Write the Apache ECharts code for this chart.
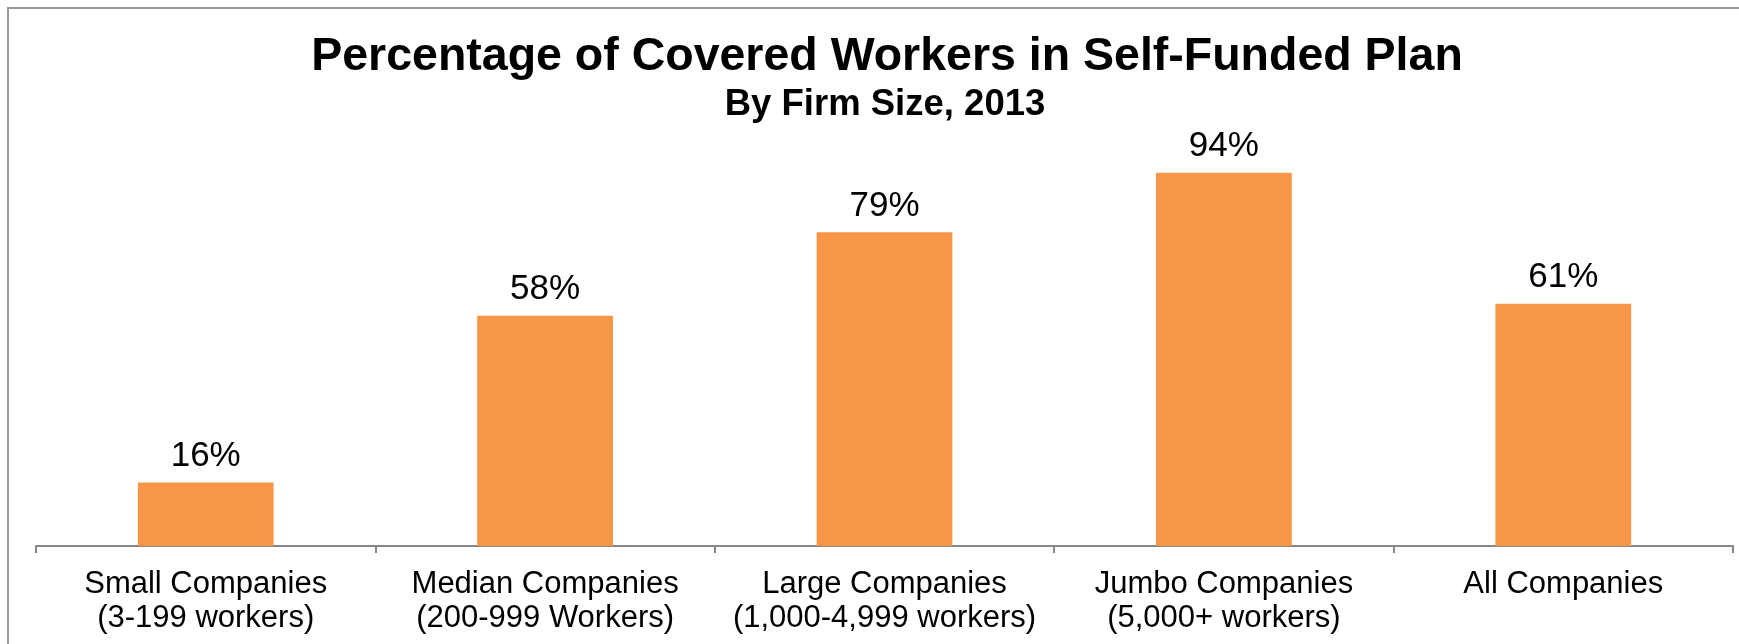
<!DOCTYPE html>
<html>
<head>
<meta charset="utf-8">
<script src="https://cdn.jsdelivr.net/npm/echarts@6/dist/echarts.min.js"></script>
<style>
  html, body { margin: 0; padding: 0; background: #ffffff; }
  #chart { width: 1739px; height: 644px; }
</style>
</head>
<body>
<div id="chart"></div>
<script>
// Firm-size groups and the share of covered workers in self-funded plans (%)
const categories = [
  'Small Companies\n(3-199 workers)',
  'Median Companies\n(200-999 Workers)',
  'Large Companies\n(1,000-4,999 workers)',
  'Jumbo Companies\n(5,000+ workers)',
  'All Companies'
];
const selfFundedShare = [16, 58, 79, 94, 61];

const titleText = 'Percentage of Covered Workers in Self-Funded Plan';
const subtitleText = 'By Firm Size, 2013';

const FONT = '"Liberation Sans", Arial, Helvetica, sans-serif';
const chart = echarts.init(document.getElementById('chart'), null, { renderer: 'canvas' });

chart.setOption({
  backgroundColor: '#ffffff',
  animation: false,
  title: [
    {
      text: titleText,
      left: 887, top: 34, textAlign: 'center',
      padding: 0,
      textStyle: { fontFamily: FONT, fontSize: 46.5, fontWeight: 'bold', color: '#000000' }
    },
    {
      text: subtitleText,
      left: 885, top: 86, textAlign: 'center',
      padding: 0,
      textStyle: { fontFamily: FONT, fontSize: 36.5, fontWeight: 'bold', color: '#000000' }
    }
  ],
  graphic: [
    {
      type: 'rect',
      silent: true,
      shape: { x: 8, y: 8, width: 1800, height: 700 },
      style: { fill: 'none', stroke: '#9a9a9a', lineWidth: 2 }
    }
  ],
  grid: { left: 36, right: 6, top: 149, bottom: 98, containLabel: false },
  xAxis: {
    type: 'category',
    data: categories,
    boundaryGap: true,
    axisLine: { show: true, lineStyle: { color: '#868686', width: 2 } },
    axisTick: { show: true, length: 7, alignWithLabel: false, lineStyle: { color: '#868686', width: 2 } },
    axisLabel: {
      interval: 0,
      margin: 21,
      fontFamily: FONT,
      fontSize: 31,
      lineHeight: 34,
      color: '#000000'
    },
    splitLine: { show: false }
  },
  yAxis: {
    type: 'value',
    min: 0, max: 100, interval: 20,
    show: false
  },
  series: [
    {
      type: 'bar',
      data: selfFundedShare,
      barCategoryGap: '60%',
      itemStyle: { color: '#F79646' },
      label: {
        show: true,
        position: 'top',
        distance: 9,
        formatter: '{c}%',
        fontFamily: FONT,
        fontSize: 35,
        color: '#000000'
      }
    }
  ]
});
</script>
</body>
</html>
